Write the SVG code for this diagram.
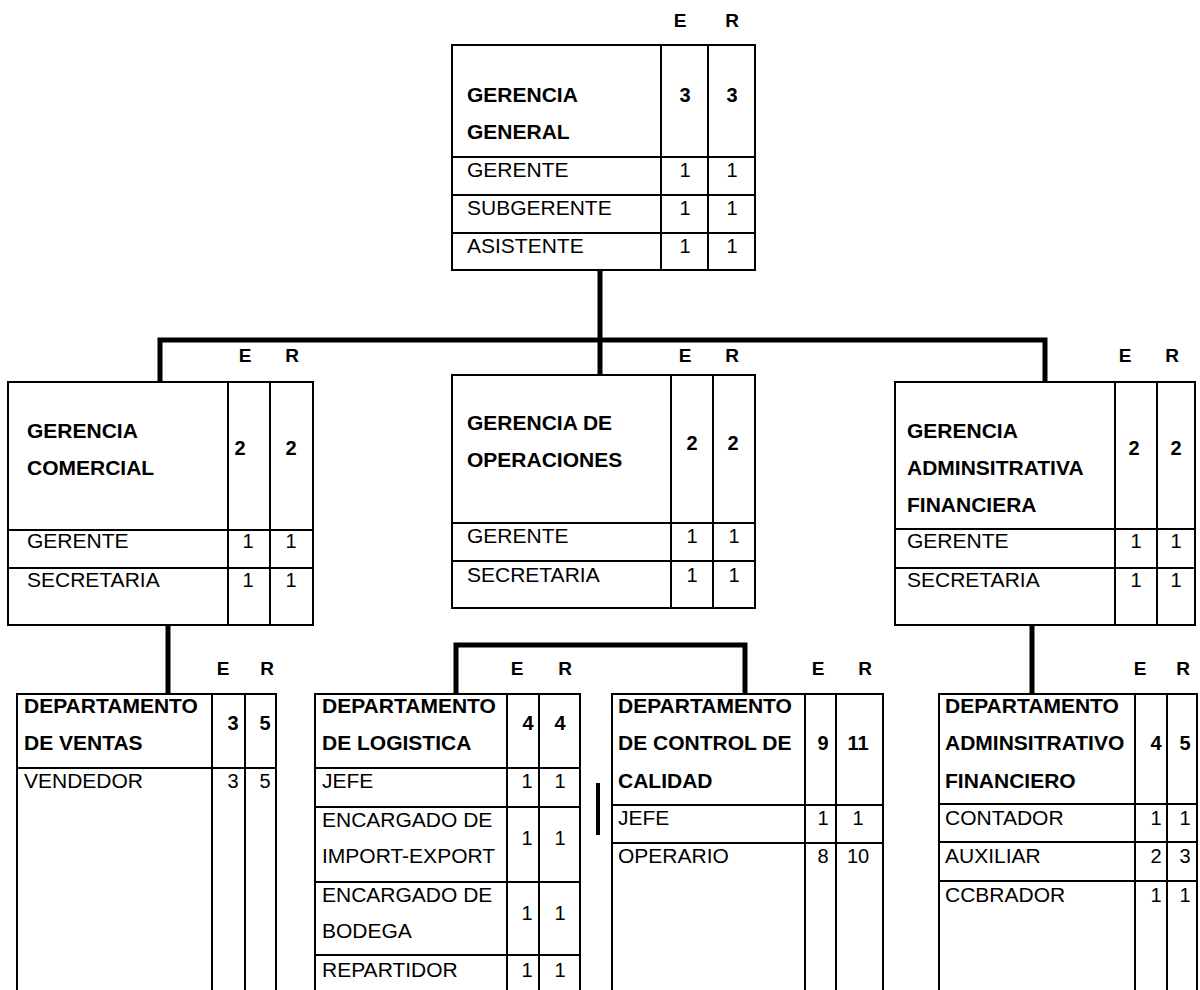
<svg xmlns="http://www.w3.org/2000/svg" width="1200" height="990" viewBox="0 0 1200 990">
<style>
.box{fill:#fff;stroke:#000;stroke-width:2}
.ln{stroke:#000;stroke-width:2;fill:none}
.conn{stroke:#000;stroke-width:5;fill:none;stroke-linejoin:miter;stroke-linecap:butt}
text{font-family:"Liberation Sans",Arial,sans-serif;font-size:21px;fill:#000}
.b{font-weight:bold}
.n{text-anchor:middle;font-size:20px}
.er{font-weight:bold;font-size:19px;text-anchor:middle}
</style>
<rect width="1200" height="990" fill="#fff"/>
<g id="connectors">
<path class="conn" d="M600 270 V340"/>
<path class="conn" d="M160 387 V340 H1045 V387"/>
<path class="conn" d="M600 340 V375"/>
<path class="conn" d="M168 625 V694"/>
<path class="conn" d="M456 694 V645 H745 V694"/>
<path class="conn" d="M1032 625 V694"/>
<path class="conn" style="stroke-width:4" d="M598 783 V835"/>
</g>
<g id="gerencia-general">
<text class="er" x="680" y="27">E</text><text class="er" x="732" y="27">R</text>
<rect class="box" x="452" y="45" width="303" height="225"/>
<path class="ln" d="M661 45V270M708 45V270M452 157H755M452 195H755M452 233H755"/>
<text class="b" x="467" y="102">GERENCIA</text>
<text class="b" x="467" y="139">GENERAL</text>
<text class="n b" x="685" y="102">3</text><text class="n b" x="732" y="102">3</text>
<text x="467" y="177">GERENTE</text><text class="n" x="685" y="177">1</text><text class="n" x="732" y="177">1</text>
<text x="467" y="215">SUBGERENTE</text><text class="n" x="685" y="215">1</text><text class="n" x="732" y="215">1</text>
<text x="467" y="253">ASISTENTE</text><text class="n" x="685" y="253">1</text><text class="n" x="732" y="253">1</text>
</g>
<g id="gerencia-comercial">
<text class="er" x="245" y="362">E</text><text class="er" x="292" y="362">R</text>
<rect class="box" x="8" y="382" width="305" height="243"/>
<path class="ln" d="M228 382V625M270 382V625M8 530H313M8 568H313"/>
<text class="b" x="27" y="438">GERENCIA</text>
<text class="b" x="27" y="475">COMERCIAL</text>
<text class="n b" x="240" y="455">2</text><text class="n b" x="291" y="455">2</text>
<text x="27" y="548">GERENTE</text><text class="n" x="248" y="548">1</text><text class="n" x="291" y="548">1</text>
<text x="27" y="587">SECRETARIA</text><text class="n" x="248" y="587">1</text><text class="n" x="291" y="587">1</text>
</g>
<g id="gerencia-operaciones">
<text class="er" x="685" y="362">E</text><text class="er" x="732" y="362">R</text>
<rect class="box" x="452" y="375" width="303" height="233"/>
<path class="ln" d="M671 375V608M713 375V608M452 523H755M452 561H755"/>
<text class="b" x="467" y="430">GERENCIA DE</text>
<text class="b" x="467" y="467">OPERACIONES</text>
<text class="n b" x="692" y="450">2</text><text class="n b" x="733" y="450">2</text>
<text x="467" y="543">GERENTE</text><text class="n" x="692" y="543">1</text><text class="n" x="734" y="543">1</text>
<text x="467" y="582">SECRETARIA</text><text class="n" x="692" y="582">1</text><text class="n" x="734" y="582">1</text>
</g>
<g id="gerencia-administrativa">
<text class="er" x="1125" y="362">E</text><text class="er" x="1172" y="362">R</text>
<rect class="box" x="895" y="382" width="300" height="243"/>
<path class="ln" d="M1115 382V625M1157 382V625M895 529H1195M895 568H1195"/>
<text class="b" x="907" y="438">GERENCIA</text>
<text class="b" x="907" y="475">ADMINSITRATIVA</text>
<text class="b" x="907" y="512">FINANCIERA</text>
<text class="n b" x="1134" y="455">2</text><text class="n b" x="1176" y="455">2</text>
<text x="907" y="548">GERENTE</text><text class="n" x="1136" y="548">1</text><text class="n" x="1176" y="548">1</text>
<text x="907" y="587">SECRETARIA</text><text class="n" x="1136" y="587">1</text><text class="n" x="1176" y="587">1</text>
</g>
<g id="dep-ventas">
<text class="er" x="223" y="675">E</text><text class="er" x="267" y="675">R</text>
<rect class="box" x="17" y="694" width="259" height="300"/>
<path class="ln" d="M212 694V994M245 694V994M17 768H276"/>
<text class="b" x="24" y="713">DEPARTAMENTO</text>
<text class="b" x="24" y="750">DE VENTAS</text>
<text class="n b" x="233" y="730">3</text><text class="n b" x="265" y="730">5</text>
<text x="24" y="788">VENDEDOR</text><text class="n" x="233" y="788">3</text><text class="n" x="265" y="788">5</text>
</g>
<g id="dep-logistica">
<text class="er" x="517" y="675">E</text><text class="er" x="565" y="675">R</text>
<rect class="box" x="315" y="694" width="265" height="300"/>
<path class="ln" d="M507 694V994M539 694V994M315 768H580M315 807H580M315 882H580M315 955H580"/>
<text class="b" x="322" y="713">DEPARTAMENTO</text>
<text class="b" x="322" y="750">DE LOGISTICA</text>
<text class="n b" x="528" y="730">4</text><text class="n b" x="560" y="730">4</text>
<text x="322" y="788">JEFE</text><text class="n" x="527" y="788">1</text><text class="n" x="560" y="788">1</text>
<text x="322" y="827">ENCARGADO DE</text><text x="322" y="863">IMPORT-EXPORT</text>
<text class="n" x="527" y="845">1</text><text class="n" x="560" y="845">1</text>
<text x="322" y="902">ENCARGADO DE</text><text x="322" y="938">BODEGA</text>
<text class="n" x="527" y="920">1</text><text class="n" x="560" y="920">1</text>
<text x="322" y="977">REPARTIDOR</text><text class="n" x="527" y="977">1</text><text class="n" x="560" y="977">1</text>
</g>
<g id="dep-calidad">
<text class="er" x="818" y="675">E</text><text class="er" x="865" y="675">R</text>
<rect class="box" x="612" y="694" width="271" height="300"/>
<path class="ln" d="M805 694V994M836 694V994M612 805H883M612 843H883"/>
<text class="b" x="618" y="713">DEPARTAMENTO</text>
<text class="b" x="618" y="750">DE CONTROL DE</text>
<text class="b" x="618" y="788">CALIDAD</text>
<text class="n b" x="823" y="750">9</text><text class="n b" x="858" y="750">11</text>
<text x="618" y="825">JEFE</text><text class="n" x="823" y="825">1</text><text class="n" x="858" y="825">1</text>
<text x="618" y="863">OPERARIO</text><text class="n" x="823" y="863">8</text><text class="n" x="858" y="863">10</text>
</g>
<g id="dep-administrativo">
<text class="er" x="1140" y="675">E</text><text class="er" x="1183" y="675">R</text>
<rect class="box" x="939" y="694" width="258" height="300"/>
<path class="ln" d="M1135 694V994M1167 694V994M939 804H1197M939 842H1197M939 881H1197"/>
<text class="b" x="945" y="713">DEPARTAMENTO</text>
<text class="b" x="945" y="750">ADMINSITRATIVO</text>
<text class="b" x="945" y="788">FINANCIERO</text>
<text class="n b" x="1156" y="750">4</text><text class="n b" x="1185" y="750">5</text>
<text x="945" y="825">CONTADOR</text><text class="n" x="1156" y="825">1</text><text class="n" x="1185" y="825">1</text>
<text x="945" y="863">AUXILIAR</text><text class="n" x="1156" y="863">2</text><text class="n" x="1185" y="863">3</text>
<text x="945" y="902">CCBRADOR</text><text class="n" x="1156" y="902">1</text><text class="n" x="1185" y="902">1</text>
</g>
</svg>
